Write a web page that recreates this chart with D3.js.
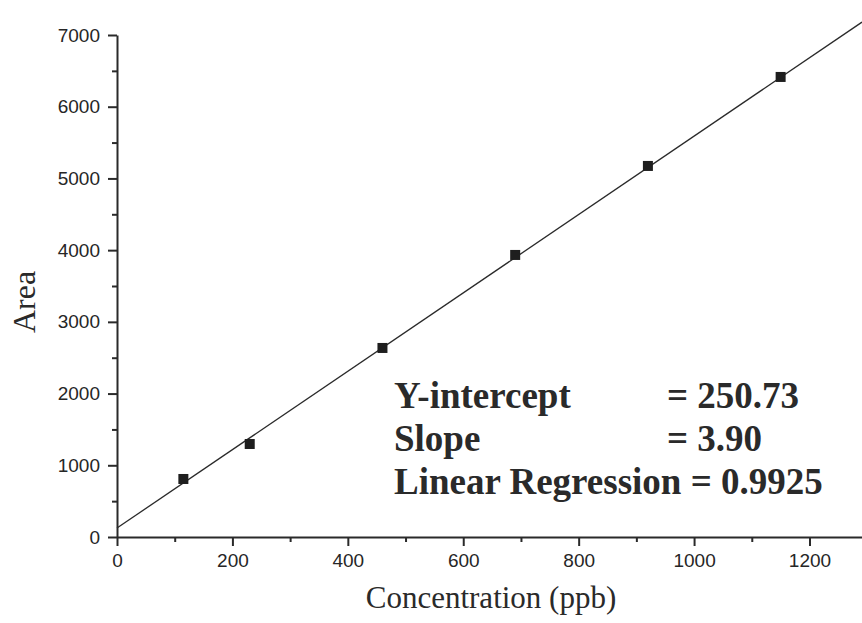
<!DOCTYPE html>
<html lang="en">
<head>
    <meta charset="UTF-8">
    <title>Calibration Curve</title>
    <script src="https://d3js.org/d3.v7.js"></script>
    <style>
        body{
            margin: 0;
            background-color: #ffffff;
        }
        .tick text{
            font-family: 'Liberation Sans', Arial, sans-serif;
            font-size: 19px;
            fill: #262626;
        }
        .axis-title{
            font-family: 'Liberation Serif', 'Times New Roman', serif;
            font-size: 31px;
            fill: #2a2a2a;
        }
        .stats{
            font-family: 'Liberation Serif', 'Times New Roman', serif;
            font-weight: bold;
            font-size: 37px;
            fill: #2a2a2a;
        }
    </style>
</head>
<body>
    <div class="chart"></div>

    <script>

        //data
        var concentration = [115, 230, 460, 690, 920, 1150];
        var area = [809, 1297, 2636, 3933, 5174, 6415];

        //fitted line end points
        var fitX = [0, 1291];
        var fitY = [125, 7180];

        //tick values
        var xTicks = [0, 200, 400, 600, 800, 1000, 1200];
        var xMinor = [100, 300, 500, 700, 900, 1100];
        var yTicks = [0, 1000, 2000, 3000, 4000, 5000, 6000, 7000];
        var yMinor = [500, 1500, 2500, 3500, 4500, 5500, 6500];

        //stats text
        var statLabels = ["Y-intercept", "Slope"];
        var statValues = ["= 250.73", "= 3.90"];
        var statLast = "Linear Regression = 0.9925";

        //setup dimensions
        var width = 862,
            height = 623,
            margin = {top:35, right:0, bottom:86, left:117};

        var svg = d3.select(".chart")
            .append("svg")
            .attr("width", width)
            .attr("height", height)

        var xScale = d3.scaleLinear()
            .domain([0, 1291])
            .range([margin.left, width - margin.right]);

        var yScale = d3.scaleLinear()
            .domain([0, 7000])
            .range([height - margin.bottom, margin.top]);

        var ink = "#2a2a2a";

        //x axis
        svg.append("g")
            .attr("transform", "translate(0," + yScale(0) + ")")
            .call(d3.axisBottom(xScale).tickValues(xTicks).tickSize(9).tickPadding(8)
                .tickFormat(d3.format("d")).tickSizeOuter(0));
        svg.append("g")
            .attr("transform", "translate(0," + yScale(0) + ")")
            .call(d3.axisBottom(xScale).tickValues(xMinor).tickSize(5).tickFormat(""))
            .select(".domain").remove();

        //y axis
        svg.append("g")
            .attr("transform", "translate(" + xScale(0) + ",0)")
            .call(d3.axisLeft(yScale).tickValues(yTicks).tickSize(9).tickPadding(8)
                .tickFormat(d3.format("d")).tickSizeOuter(0));
        svg.append("g")
            .attr("transform", "translate(" + xScale(0) + ",0)")
            .call(d3.axisLeft(yScale).tickValues(yMinor).tickSize(5).tickFormat(""))
            .select(".domain").remove();

        svg.selectAll(".domain, .tick line")
            .attr("stroke", ink)
            .attr("stroke-width", 2);

        //regression line
        svg.append("line")
            .attr("x1", xScale(fitX[0]))
            .attr("y1", yScale(fitY[0]))
            .attr("x2", xScale(fitX[1]))
            .attr("y2", yScale(fitY[1]))
            .attr("stroke", ink)
            .attr("stroke-width", 1.3);

        //square markers
        svg.selectAll("rect.pt")
            .data(concentration)
            .join("rect")
                .attr("class", "pt")
                .attr("x", function(d){return xScale(d) - 5})
                .attr("y", function(d, i){return yScale(area[i]) - 5})
                .attr("width", 10)
                .attr("height", 10)
                .attr("fill", "#1e1e1e");

        //axis titles
        svg.append("text")
            .attr("class", "axis-title")
            .attr("x", 491)
            .attr("y", 608)
            .attr("text-anchor", "middle")
            .text("Concentration (ppb)");

        svg.append("text")
            .attr("class", "axis-title")
            .attr("transform", "translate(35,302) rotate(-90)")
            .attr("text-anchor", "middle")
            .style("font-size", "32px")
            .text("Area");

        //stats block
        svg.selectAll("text.lab")
            .data(statLabels)
            .join("text")
                .attr("class", "stats lab")
                .attr("x", 394)
                .attr("y", function(d, i){return 408 + i * 43})
                .text(function(d){return d});

        svg.selectAll("text.val")
            .data(statValues)
            .join("text")
                .attr("class", "stats val")
                .attr("x", 667)
                .attr("y", function(d, i){return 408 + i * 43})
                .text(function(d){return d});

        svg.append("text")
            .attr("class", "stats")
            .attr("x", 394)
            .attr("y", 494)
            .text(statLast);

    </script>

</body>
</html>
